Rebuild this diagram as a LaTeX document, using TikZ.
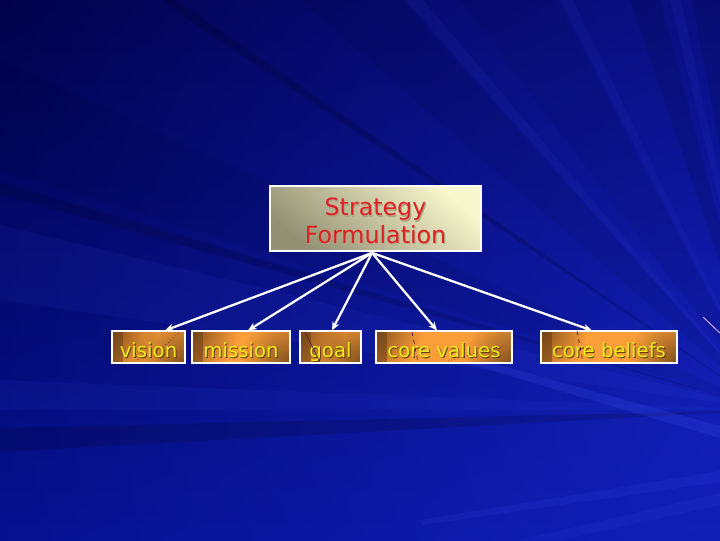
\documentclass[tikz,border=0pt]{standalone}
\usepackage{fontspec}
\setmainfont{DejaVu Sans}
\usetikzlibrary{arrows.meta,fadings}

\definecolor{bgTop}{RGB}{0,0,96}
\definecolor{bgBot}{RGB}{4,16,152}
\definecolor{glowc}{RGB}{36,52,226}
\definecolor{raylight}{RGB}{70,90,255}
\definecolor{ttlred}{RGB}{222,32,36}
\definecolor{ttlshadow}{RGB}{175,165,132}
\definecolor{cream}{RGB}{248,246,204}
\definecolor{olive}{RGB}{148,144,116}
\definecolor{orDark}{RGB}{105,62,22}
\definecolor{orMid}{RGB}{250,158,58}
\definecolor{orDarkB}{RGB}{100,62,22}
\definecolor{lblyel}{RGB}{242,236,24}
\definecolor{lblshadow}{RGB}{100,62,10}
\definecolor{scratch}{RGB}{70,20,50}
\definecolor{pinkline}{RGB}{205,160,235}

\tikzfading[name=glowfade, inner color=transparent!50, outer color=transparent!100]
\tikzfading[name=cornerfade, inner color=transparent!72, outer color=transparent!100]
\tikzfading[name=spotfade, inner color=transparent!20, outer color=transparent!100]
\tikzfading[name=fromleft, left color=transparent!40, right color=transparent!100]

\newcommand{\shtxt}[3]{\leavevmode\rlap{\hspace{0.8pt}\raisebox{-0.8pt}{\textcolor{#2}{#3}}}\textcolor{#1}{#3}}

\begin{document}
\begin{tikzpicture}[x=0.75pt,y=-0.75pt,
  ttlbox/.style={draw=white, line width=0.8pt, top color=cream, bottom color=olive,
    shading angle=-40, minimum width=158.25pt, minimum height=48.75pt, inner sep=0pt},
  ttltext/.style={inner sep=0pt, align=center, font=\fontsize{17.8}{20.5}\selectfont},
  lblbox/.style={draw=white, line width=0.8pt, fill=orMid, minimum height=24pt, inner sep=0pt,
    text height=15.6pt, text depth=0pt, font=\fontsize{14.8}{17}\selectfont,
    path picture={
      \fill[orDark, path fading=fromleft] (path picture bounding box.north west)
        rectangle ([xshift=8pt]path picture bounding box.south west);
      \fill[orDark, path fading=spotfade] (path picture bounding box.north west) circle (46);
      \fill[orDarkB, path fading=spotfade] (path picture bounding box.south east) circle (50);
    }},
  conn/.style={draw=white, line width=1.7pt, -{Stealth[length=6.5pt,width=5.5pt]}},
  darkray/.style={fill=black, opacity=0.1},
  lightray/.style={fill=raylight, opacity=0.07},
  scr/.style={draw=scratch, line width=0.5pt}
]
\useasboundingbox (0,0) rectangle (720,540);

% ---------- background ----------
\shade[top color=bgTop, bottom color=bgBot] (0,0) rectangle (720,540);
\begin{scope}
  \clip (0,0) rectangle (720,540);
  \fill[black, path fading=cornerfade] (0,0) circle (800);
  \fill[glowc, path fading=glowfade] (770,400) circle (920);
  % rays from a centre beyond the right edge
  \coordinate (rc) at (770,410);
  \fill[darkray, opacity=0.16] (rc) -- (160,0) -- (176,0) -- cycle;
  \fill[darkray, opacity=0.07] (rc) -- (300,0) -- (400,0) -- cycle;
  \fill[lightray] (rc) -- (405,0) -- (423,0) -- cycle;
  \fill[darkray, opacity=0.06] (rc) -- (460,0) -- (555,0) -- cycle;
  \fill[lightray] (rc) -- (560,0) -- (573,0) -- cycle;
  \fill[darkray, opacity=0.1] (rc) -- (630,0) -- (660,0) -- cycle;
  \fill[lightray] (rc) -- (670,0) -- (681,0) -- cycle;
  \fill[darkray, opacity=0.12] (rc) -- (692,0) -- (735,0) -- cycle;
  \fill[darkray, opacity=0.06] (rc) -- (0,60) -- (0,170) -- cycle;
  \fill[darkray, opacity=0.14] (rc) -- (0,182) -- (0,194) -- cycle;
  \fill[lightray, opacity=0.07] (rc) -- (0,225) -- (0,300) -- cycle;
  \fill[lightray, opacity=0.07] (rc) -- (0,380) -- (0,410) -- cycle;
  \fill[darkray, opacity=0.14] (rc) -- (0,428) -- (0,452) -- cycle;
  % lighter streaks lower right
  \fill[lightray, opacity=0.18] (400,338) -- (402,344) -- (720,438) -- (720,426) -- cycle;
  \fill[lightray, opacity=0.11] (420,520) -- (422,525) -- (720,482) -- (720,471) -- cycle;
  \fill[lightray, opacity=0.09] (520,540) -- (560,540) -- (720,505) -- (720,493) -- cycle;
  \draw[pinkline, line width=0.75pt] (703,317) -- (720,333);
\end{scope}

% ---------- nodes ----------
\node[ttlbox] (top) at (375.5,218.5) {};
\node[ttltext] (toptxt) at (375.5,221.5)
  {\shtxt{ttlred}{ttlshadow}{Strategy}\\\shtxt{ttlred}{ttlshadow}{Formulation}};

\node[lblbox, minimum width=54.75pt] (vis) at (148.5,347)
  {\shtxt{lblyel}{lblshadow}{vision}};
\node[lblbox, minimum width=73.5pt] (mis) at (241,347)
  {\shtxt{lblyel}{lblshadow}{mission}\hspace{3.75pt}};
\node[lblbox, minimum width=45.75pt] (goa) at (330.5,347)
  {\shtxt{lblyel}{lblshadow}{goal}};
\node[lblbox, minimum width=102pt] (cv) at (444,347)
  {\shtxt{lblyel}{lblshadow}{core values}\hspace{6pt}};
\node[lblbox, minimum width=102pt] (cb) at (609,347)
  {\shtxt{lblyel}{lblshadow}{core beliefs}\hspace{6.75pt}};

% small dark scratches on the boxes
\draw[scr, dotted] (163,347) -- (180,332);
\draw[scr, dotted] (135,353) -- (139,362);
\draw[scr] (305,332) -- (320,362);
\draw[scr, dashed] (412,332) -- (418,362);
\draw[scr, dotted] (448,361) -- (506,345);
\draw[scr, dashed] (577,331) -- (583,362);

% ---------- connectors ----------
\coordinate (hub) at ([xshift=-2.6pt,yshift=-1pt]top.south);
\draw[conn] (hub) -- ([xshift=12.4pt]vis.north);
\draw[conn] (hub) -- ([xshift=5.25pt]mis.north);
\draw[conn] (hub) -- ([xshift=1.1pt]goa.north);
\draw[conn] (hub) -- ([xshift=-5.25pt]cv.north);
\draw[conn] (hub) -- ([xshift=-12.75pt]cb.north);
\end{tikzpicture}
\end{document}
